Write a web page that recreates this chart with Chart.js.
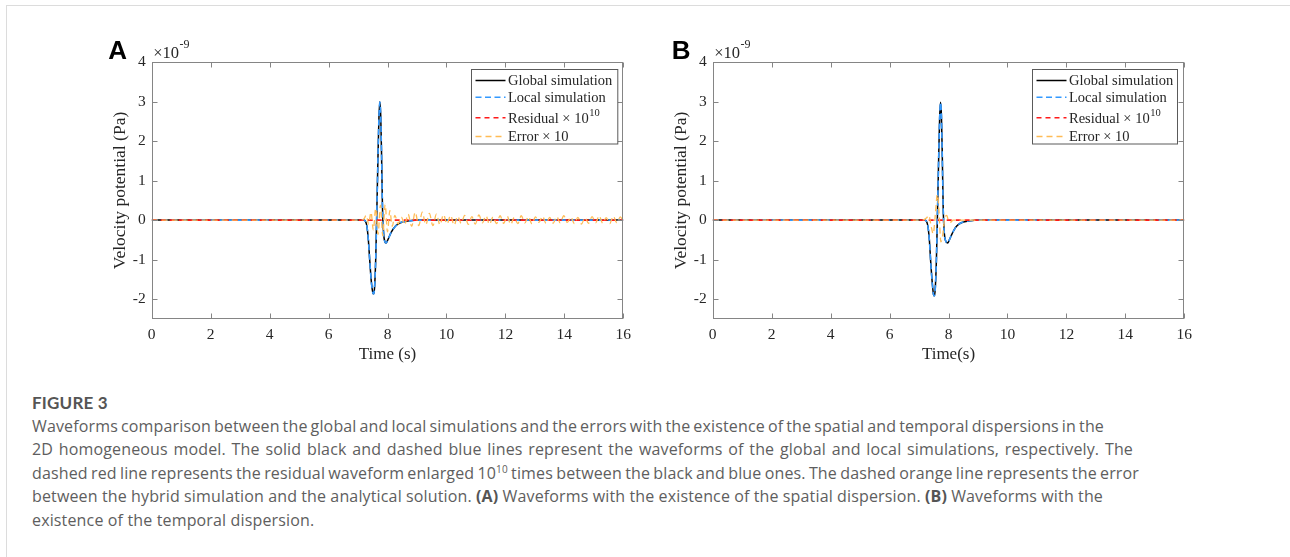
<!DOCTYPE html>
<html>
<head>
<meta charset="utf-8">
<script src="https://cdn.jsdelivr.net/npm/chart.js@4.4.1/dist/chart.umd.min.js"></script>
<style>
  html, body { margin: 0; padding: 0; background: #fff; }
  body { width: 1290px; height: 557px; position: relative; overflow: hidden; }
  #frame { position: absolute; left: 6px; top: 5px; right: 0; bottom: 0;
           border-top: 1px solid #dcdcdc; border-left: 1px solid #dcdcdc; }
  canvas { position: absolute; top: 0; }
  #cvA { left: 50px; }
  #cvB { left: 611px; }
  #caption { position: absolute; left: 32px; top: 391px; font-family: "Open Sans", Lato, sans-serif;
             font-size: 16px; line-height: 23.5px; color: #5e5e5e; letter-spacing: 0.15px; }
  #caption .head { font-family: Lato, sans-serif; font-weight: 700; font-size: 17px; color: #555; letter-spacing: 0.2px; }
  #caption .ln, #caption .last { white-space: nowrap; }
  #caption .ln span, #caption .last span { display: inline-block; }
  #caption b { font-weight: 700; color: #555; }
  sup { font-size: 10px; line-height: 0; vertical-align: 6px; }
</style>
</head>
<body>
<div id="frame"></div>
<canvas id="cvA" width="590" height="380"></canvas>
<canvas id="cvB" width="590" height="380"></canvas>
<div id="caption">
  <div class="head">FIGURE 3</div>
  <div class="ln" data-w="1072"><span>Waveforms comparison between the global and local simulations and the errors with the existence of the spatial and temporal dispersions in the</span></div>
  <div class="ln" data-w="1101"><span>2D homogeneous model. The solid black and dashed blue lines represent the waveforms of the global and local simulations, respectively. The</span></div>
  <div class="ln" data-w="1107"><span>dashed red line represents the residual waveform enlarged 10<sup>10</sup> times between the black and blue ones. The dashed orange line represents the error</span></div>
  <div class="ln" data-w="1071"><span>between the hybrid simulation and the analytical solution. <b>(A)</b> Waveforms with the existence of the spatial dispersion. <b>(B)</b> Waveforms with the</span></div>
  <div class="last"><span>existence of the temporal dispersion.</span></div>
</div>
<script>
// ---- axis ticks ----
const xTicks = [0, 2, 4, 6, 8, 10, 12, 14, 16];
const yTicks = [-2, -1, 0, 1, 2, 3, 4];

// ---- panel A: spatial dispersion (values in units of 1e-9 Pa) ----
const timeA   = [0, 6.9, 7.1, 7.2, 7.25, 7.3, 7.35, 7.4, 7.45, 7.5, 7.53, 7.56, 7.6, 7.64, 7.68, 7.71, 7.74, 7.77, 7.8, 7.83, 7.87, 7.91, 7.95, 8.0, 8.06, 8.12, 8.2, 8.3, 8.4, 8.55, 8.75, 9.0, 16];
const globalA = [0, 0, 0, 0, -0.03, -0.15, -0.5, -1.05, -1.55, -1.83, -1.87, -1.72, -1.0, 0.3, 1.7, 2.6, 3.0, 2.65, 1.6, 0.3, -0.35, -0.55, -0.58, -0.52, -0.42, -0.32, -0.22, -0.13, -0.08, -0.04, -0.015, 0, 0];
const localA  = [0, 0, 0, 0, -0.03, -0.15, -0.5, -1.05, -1.55, -1.83, -1.87, -1.72, -1.0, 0.3, 1.7, 2.6, 2.99, 2.65, 1.6, 0.3, -0.35, -0.55, -0.58, -0.52, -0.42, -0.32, -0.22, -0.13, -0.07, -0.04, -0.02, 0, 0];
const residualTimeA = [0, 16];
const residualA     = [0, 0];
const errorTimeA = [0, 7.1, 7.2, 7.28, 7.36, 7.44, 7.52, 7.6, 7.68, 7.76, 7.84, 7.92, 8.0, 8.08, 8.16, 8.25, 8.36, 8.47, 8.58, 8.7, 8.82, 8.94, 9.06, 9.18, 9.3, 9.42, 9.54,
  9.66, 9.78, 9.9, 10.02, 10.14, 10.26, 10.38, 10.5, 10.62, 10.74, 10.86, 10.98, 11.1, 11.22, 11.34, 11.46, 11.58, 11.7, 11.82, 11.94,
  12.06, 12.18, 12.3, 12.42, 12.54, 12.66, 12.78, 12.9, 13.02, 13.14, 13.26, 13.38, 13.5, 13.62, 13.74, 13.86, 13.98,
  14.1, 14.22, 14.34, 14.46, 14.58, 14.7, 14.82, 14.94, 15.06, 15.18, 15.3, 15.42, 15.54, 15.66, 15.78, 15.9, 16.0];
const errorA = [0, 0, 0.03, 0.12, -0.1, 0.2, -0.25, 0.3, -0.36, 0.38, -0.4, 0.4, -0.3, 0.24, -0.16, 0.12, -0.1, 0.08, -0.12, 0.15, -0.16, 0.2, -0.14, 0.2, -0.12, 0.17, -0.14,
  0.15, -0.12, 0.14, -0.1, 0.12, -0.13, 0.1, -0.08, 0.12, -0.11, 0.09, -0.1, 0.13, -0.07, 0.11, -0.11, 0.08, -0.09, 0.11, -0.08,
  0.1, -0.11, 0.07, -0.09, 0.11, -0.07, 0.09, -0.1, 0.08, -0.06, 0.1, -0.09, 0.07, -0.08, 0.09, -0.07, 0.11,
  -0.06, 0.08, -0.09, 0.07, -0.1, 0.06, -0.08, 0.09, -0.07, 0.11, -0.08, 0.06, -0.09, 0.1, -0.07, 0.08, -0.05];

// ---- panel B: temporal dispersion ----
const timeB   = [0, 6.9, 7.1, 7.2, 7.25, 7.3, 7.35, 7.4, 7.45, 7.49, 7.52, 7.55, 7.59, 7.63, 7.67, 7.7, 7.73, 7.76, 7.79, 7.82, 7.86, 7.9, 7.97, 8.03, 8.1, 8.18, 8.28, 8.4, 8.55, 8.75, 9.0, 16];
const globalB = [0, 0, 0, 0, -0.03, -0.15, -0.5, -1.1, -1.6, -1.88, -1.92, -1.75, -1.0, 0.3, 1.7, 2.6, 2.99, 2.65, 1.6, 0.3, -0.35, -0.52, -0.58, -0.5, -0.38, -0.26, -0.15, -0.08, -0.04, -0.015, 0, 0];
const localB  = [0, 0, 0, 0, -0.03, -0.15, -0.5, -1.1, -1.6, -1.88, -1.92, -1.75, -1.0, 0.3, 1.7, 2.6, 2.98, 2.65, 1.6, 0.3, -0.35, -0.52, -0.58, -0.5, -0.38, -0.26, -0.15, -0.08, -0.04, -0.015, 0, 0];
const residualTimeB = [0, 16];
const residualB     = [0, 0];
const errorTimeB = [0, 7.1, 7.25, 7.33, 7.41, 7.48, 7.56, 7.62, 7.68, 7.74, 7.8, 7.87, 7.94, 8.0, 8.08, 8.15, 16];
const errorB     = [0, 0, 0.05, 0.12, -0.15, -0.35, 0.2, 0.65, 0.2, -0.55, -0.4, 0.05, 0.12, -0.02, -0.05, 0, 0];

const seriesLabels = ['Global simulation', 'Local simulation', 'Residual \u00d7 10^10', 'Error \u00d7 10'];

const SERIF = '"Liberation Serif", "Times New Roman", serif';
const INK = '#262626';

function pts(xs, ys) { return xs.map((x, i) => ({ x, y: ys[i] })); }

// box with inward ticks on all four sides
const axesFrame = {
  id: 'axesFrame',
  afterDatasetsDraw(chart) {
    const { ctx, chartArea: a, scales: { x, y } } = chart;
    const L = Math.round(a.left) + 0.5, R = Math.round(a.right) - 0.5;
    const T = Math.round(a.top) + 0.5, B = Math.round(a.bottom) - 0.5;
    const len = 5;
    ctx.save();
    ctx.strokeStyle = '#858585';
    ctx.lineWidth = 1;
    ctx.strokeRect(L, T, R - L, B - T);
    ctx.beginPath();
    x.ticks.forEach(t => {
      const px = Math.round(x.getPixelForValue(t.value)) + 0.5;
      ctx.moveTo(px, B); ctx.lineTo(px, B - len);
      ctx.moveTo(px, T); ctx.lineTo(px, T + len);
    });
    y.ticks.forEach(t => {
      const py = Math.round(y.getPixelForValue(t.value)) + 0.5;
      ctx.moveTo(L, py); ctx.lineTo(L + len, py);
      ctx.moveTo(R, py); ctx.lineTo(R - len, py);
    });
    ctx.stroke();
    ctx.restore();
  }
};

// panel letter, exponent marker and boxed legend
const annotations = {
  id: 'annotations',
  afterDraw(chart, args, opts) {
    const { ctx, chartArea: a } = chart;
    ctx.save();
    // panel letter
    ctx.fillStyle = '#000';
    ctx.font = 'bold 26px "Liberation Sans", Arial, sans-serif';
    ctx.textBaseline = 'alphabetic';
    ctx.textAlign = 'left';
    ctx.fillText(opts.letter, a.left + opts.letterDx, a.top - 3);
    // exponent of the y axis
    ctx.fillStyle = INK;
    ctx.font = '16.5px ' + SERIF;
    ctx.textBaseline = 'middle';
    const ex = a.left + 1.5, ey = a.top - 9;
    ctx.fillText('\u00d710', ex, ey);
    const w = ctx.measureText('\u00d710').width;
    ctx.font = '12px ' + SERIF;
    ctx.fillText('-9', ex + w + 0.5, ey - 8);

    // legend
    const bw = opts.boxWidth, bh = 74.5;
    const bx = Math.round(a.right - opts.boxRight - bw) + 0.5, by = Math.round(a.top + 6.7) + 0.5;
    ctx.fillStyle = '#fff';
    ctx.fillRect(bx, by, bw, bh);
    ctx.strokeStyle = '#5a5a5a';
    ctx.lineWidth = 1;
    ctx.strokeRect(bx, by, bw, bh);
    const rows = [11, 27.7, 48.3, 67];
    chart.data.datasets.forEach((ds, i) => {
      const ry = by + rows[i];
      ctx.save();
      ctx.strokeStyle = ds.borderColor;
      ctx.lineWidth = ds.borderWidth;
      ctx.setLineDash(ds.borderDash || []);
      ctx.beginPath();
      ctx.moveTo(bx + 4, ry);
      ctx.lineTo(bx + 34, ry);
      ctx.stroke();
      ctx.restore();
      const parts = ds.label.split('^');
      ctx.fillStyle = INK;
      ctx.font = '14.5px ' + SERIF;
      ctx.textBaseline = 'middle';
      const tx = bx + 36.5, ty = ry + (parts.length > 1 ? 1.5 : 0.5);
      ctx.fillText(parts[0], tx, ty);
      if (parts.length > 1) {
        const pw = ctx.measureText(parts[0]).width;
        ctx.font = '10.5px ' + SERIF;
        ctx.fillText(parts[1], tx + pw + 0.5, ty - 6.5);
      }
    });
    ctx.restore();
  }
};

function makeChart(id, d, xTitle, letter, letterDx, boxWidth, boxRight) {
  const datasets = [
    { label: seriesLabels[0], data: pts(d.t, d.g), borderColor: '#000000', borderWidth: 1.5, order: 4 },
    { label: seriesLabels[1], data: pts(d.t, d.l), borderColor: '#3399ff', borderWidth: 1.6, borderDash: [6, 3.5], order: 3 },
    { label: seriesLabels[2], data: pts(d.rt, d.r), borderColor: '#ff1a1a', borderWidth: 1.6, borderDash: [5, 4], order: 2 },
    { label: seriesLabels[3], data: pts(d.et, d.e), borderColor: '#ffbb55', borderWidth: 1.3, borderDash: [6, 4], order: 1 }
  ].map(ds => Object.assign(ds, { fill: false, pointRadius: 0, cubicInterpolationMode: 'monotone' }));

  return new Chart(document.getElementById(id), {
    type: 'line',
    data: { datasets },
    options: {
      responsive: false,
      animation: false,
      devicePixelRatio: 1,
      events: [],
      layout: { padding: { left: 60, top: 62.3, right: 16.7, bottom: 11.3 } },
      scales: {
        x: {
          type: 'linear', min: 0, max: 16,
          afterBuildTicks: s => { s.ticks = xTicks.map(v => ({ value: v })); },
          afterFit: s => { s.height = 50; },
          grid: { display: false, drawTicks: false },
          border: { display: false },
          ticks: { padding: 7, color: INK, font: { family: SERIF, size: 15.5 }, maxRotation: 0, autoSkip: false },
          title: { display: true, text: xTitle, color: INK, font: { family: SERIF, size: 17 }, padding: { top: 0, bottom: 3.5 } }
        },
        y: {
          type: 'linear', min: -2.5, max: 4,
          afterBuildTicks: s => { s.ticks = yTicks.map(v => ({ value: v })); },
          afterFit: s => { s.width = 41.7; },
          grid: { display: false, drawTicks: false },
          border: { display: false },
          ticks: { padding: 6, color: INK, font: { family: SERIF, size: 15.5 }, autoSkip: false },
          title: { display: true, text: 'Velocity potential (Pa)', color: INK, font: { family: SERIF, size: 17.5 }, padding: { top: 0, bottom: 0 } }
        }
      },
      plugins: {
        legend: { display: false },
        tooltip: { enabled: false },
        annotations: { letter, letterDx, boxWidth, boxRight }
      }
    },
    plugins: [axesFrame, annotations]
  });
}

makeChart('cvA', { t: timeA, g: globalA, l: localA, rt: residualTimeA, r: residualA, et: errorTimeA, e: errorA },
  'Time (s)', 'A', -43.5, 146.3, 6);
makeChart('cvB', { t: timeB, g: globalB, l: localB, rt: residualTimeB, r: residualB, et: errorTimeB, e: errorB },
  'Time(s)', 'B', -41, 145, 7.3);

// stretch or tighten word spacing so each caption line spans its set width
document.querySelectorAll('#caption .ln').forEach(line => {
  const span = line.firstElementChild;
  const target = parseFloat(line.dataset.w);
  const spaces = (span.textContent.match(/ /g) || []).length;
  const natural = span.getBoundingClientRect().width;
  span.style.wordSpacing = ((target - natural) / spaces).toFixed(3) + 'px';
});
</script>
</body>
</html>
